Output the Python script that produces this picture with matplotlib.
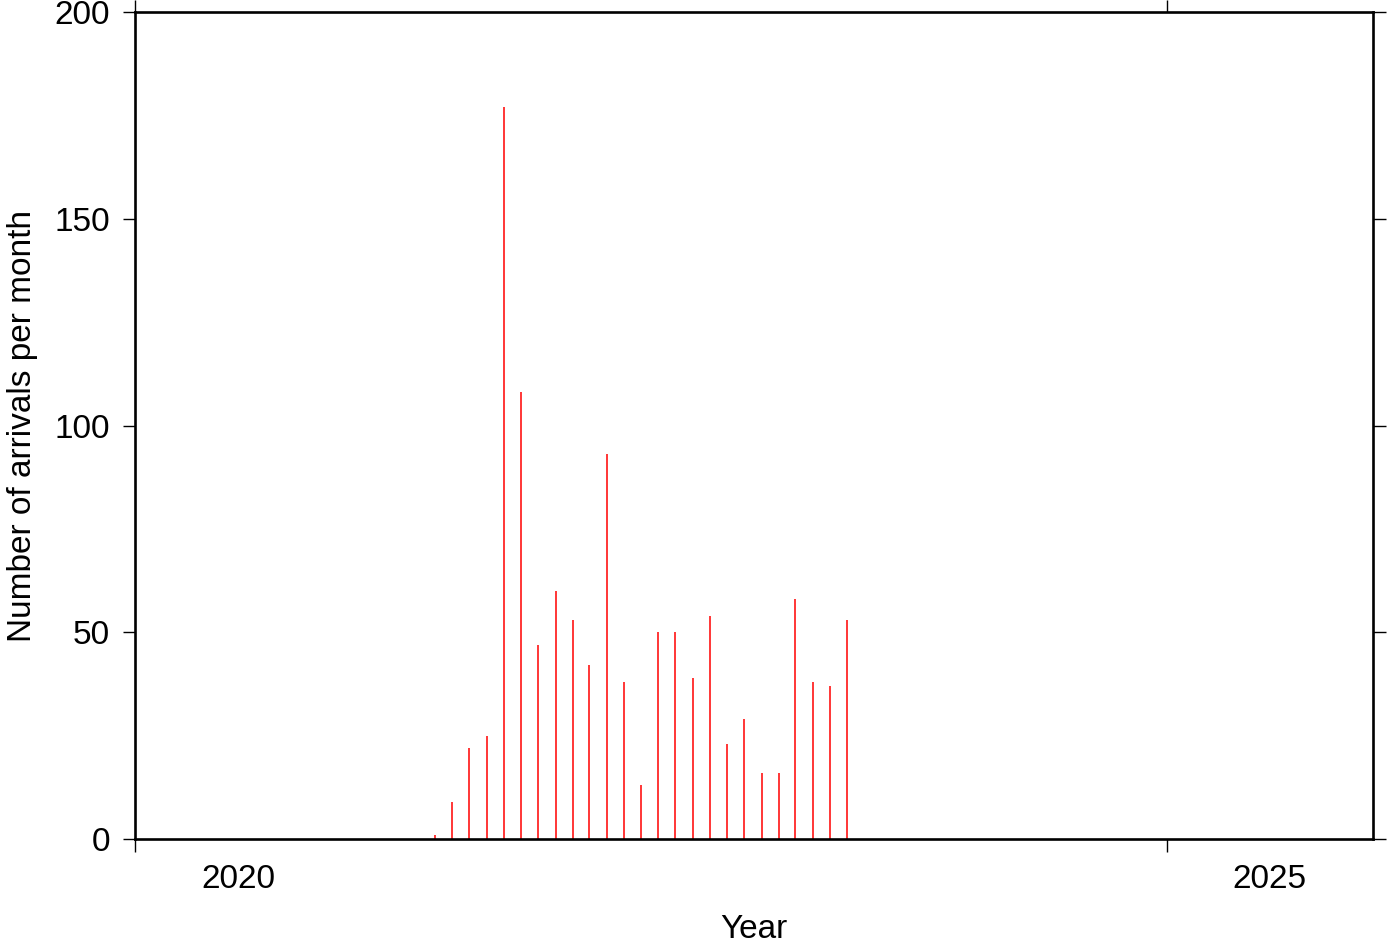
import datetime as dt
import matplotlib
matplotlib.use("Agg")
import matplotlib.pyplot as plt

plt.rcParams['font.family'] = ['Liberation Sans', 'DejaVu Sans']

# monthly arrivals, June 2021 .. June 2023
start_year, start_month = 2021, 6
counts = [1, 9, 22, 25, 177, 108, 47, 60, 53, 42, 93, 38, 13,
          50, 50, 39, 54, 23, 29, 16, 16, 58, 38, 37, 53]

months = []
for i in range(len(counts)):
    m = start_month - 1 + i
    months.append(dt.date(start_year + m // 12, m % 12 + 1, 15))

fig = plt.figure(figsize=(13.87, 9.42), dpi=100)
ax = fig.add_axes([0.0973, 0.1093, 0.8926, 0.878])

ax.vlines(months, 0, counts, color='red', linewidth=1.1)

ax.set_xlim(dt.date(2020, 1, 1), dt.date(2026, 1, 1))
ax.set_ylim(0, 200)

# year ticks at Jan 1, labels centred on the year
ax.set_xticks([dt.date(2020, 1, 1), dt.date(2025, 1, 1)])
ax.set_xticklabels([])
ax.set_xticks([dt.date(2020, 7, 2), dt.date(2025, 7, 2)], minor=True)
ax.set_xticklabels(['2020', '2025'], minor=True)
ax.set_yticks([0, 50, 100, 150, 200])

fs = 24
ax.tick_params(which='major', direction='out', length=9, width=1.0,
               top=True, right=True, labelsize=fs, pad=9)
ax.tick_params(axis='x', which='minor', length=0, pad=18, labelsize=fs,
               top=False)
for s in ax.spines.values():
    s.set_linewidth(1.9)

ax.set_xlabel('Year', fontsize=fs, labelpad=14)
ax.set_ylabel('Number of arrivals per month', fontsize=fs, labelpad=12)

fig.savefig('out.png', dpi=100)
